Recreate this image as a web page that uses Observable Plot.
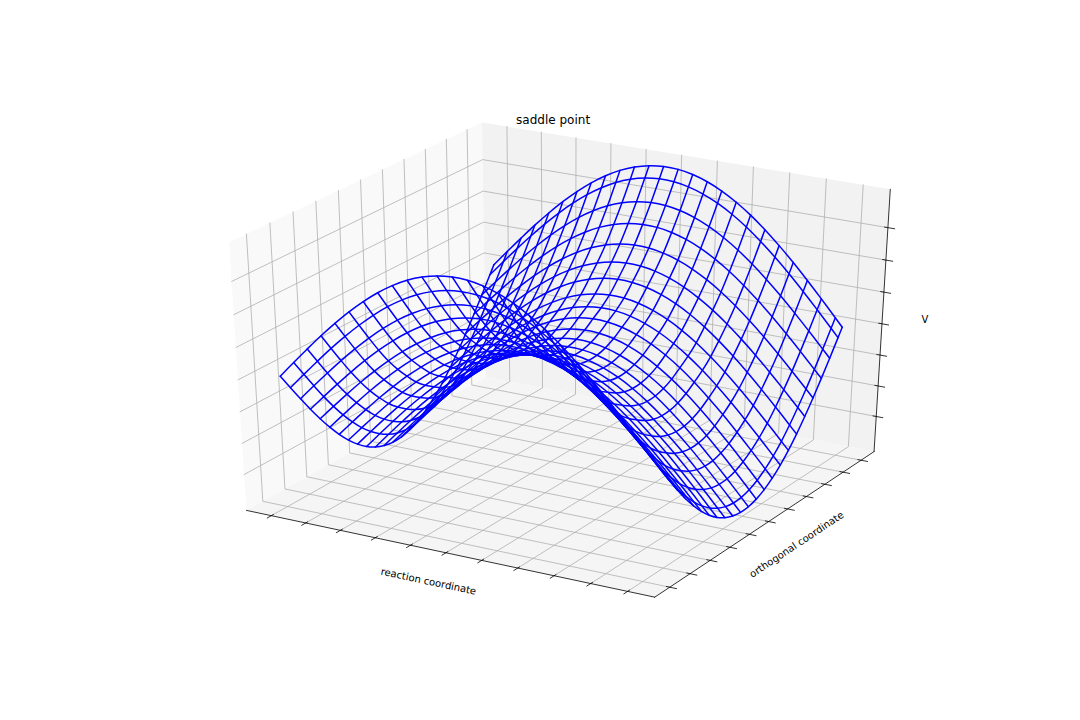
<!DOCTYPE html>
<html>
<head>
<meta charset="utf-8">
<script src="https://cdn.jsdelivr.net/npm/d3@7"></script>
<script src="https://cdn.jsdelivr.net/npm/@observablehq/plot@0.6"></script>
<style>
html,body{margin:0;padding:0;background:#fff}
svg{display:block}
</style>
</head>
<body>
<div id="chart"></div>
<script>
// Values
const reactionCoordinate = [-5,-4.592,-4.184,-3.776,-3.367,-2.959,-2.551,-2.143,-1.735,-1.327,-0.918,-0.51,-0.102,0.306,0.714,1.122,1.531,1.939,2.347,2.755,3.163,3.571,3.98,4.388,4.796,5];
const orthogonalCoordinate = [-5,-4.592,-4.184,-3.776,-3.367,-2.959,-2.551,-2.143,-1.735,-1.327,-0.918,-0.51,-0.102,0.306,0.714,1.122,1.531,1.939,2.347,2.755,3.163,3.571,3.98,4.388,4.796,5];
// V along the reaction coordinate (arch) and along the orthogonal coordinate (valley)
const reactionProfile = [0,0.256,0.507,0.751,0.981,1.196,1.391,1.564,1.71,1.829,1.917,1.974,1.999,1.991,1.95,1.877,1.773,1.64,1.481,1.296,1.09,0.868,0.63,0.383,0.128,0];
const orthogonalProfile = [0,-0.256,-0.507,-0.751,-0.981,-1.196,-1.391,-1.564,-1.71,-1.829,-1.917,-1.974,-1.999,-1.991,-1.95,-1.877,-1.773,-1.64,-1.481,-1.296,-1.09,-0.868,-0.63,-0.383,-0.128,0];
// Extra drop read along the crest of the arch, per orthogonal coordinate
const crestDrop = [0,-0.03,-0.06,-0.085,-0.1,-0.09,-0.07,-0.06,-0.03,0,0,0,0,0,0,0,0,-0.03,-0.06,-0.07,-0.09,-0.1,-0.085,-0.06,-0.015,0.015];
const xTicks = [-5,-4,-3,-2,-1,0,1,2,3,4,5];
const yTicks = [-5,-4,-3,-2,-1,0,1,2,3,4,5];
const vTicks = [-1.5,-1,-0.5,0,0.5,1,1.5];
const xLimits = [-5.5,5.5], yLimits = [-5.5,5.5], vLimits = [-2,2];

// 3D camera: elevation 30, azimuth -60, distance 10
const elev = 30*Math.PI/180, azim = -60*Math.PI/180, dist = 10;
const n = [Math.cos(elev)*Math.cos(azim), Math.cos(elev)*Math.sin(azim), Math.sin(elev)];
const uLen = Math.hypot(n[1], n[0]);
const u = [-n[1]/uLen, n[0]/uLen, 0];
const v = [n[1]*u[2]-n[2]*u[1], n[2]*u[0]-n[0]*u[2], n[0]*u[1]-n[1]*u[0]];
const dot = (a,b) => a[0]*b[0]+a[1]*b[1]+a[2]*b[2];
function project(p){ // p in the unit cube
  const d = [p[0]-0.5,p[1]-0.5,p[2]-0.5];
  const w = dist - dot(n,d);
  return [dot(u,d)/w, dot(v,d)/w];
}
const nx = x => (x-xLimits[0])/(xLimits[1]-xLimits[0]);
const ny = y => (y-yLimits[0])/(yLimits[1]-yLimits[0]);
const nz = z => (z-vLimits[0])/(vLimits[1]-vLimits[0]);
const lo = -1/48, hi = 1+1/48, tickOut = 0.2/12, tickIn = 0.1/12;

const toRow = (key, pts) => pts.map(p => { const q = project(p); return {key, px:q[0], py:q[1]}; });

// Panes
const panes = [
  {fill:"#f9f9f9", pts:[[lo,lo,lo],[lo,hi,lo],[lo,hi,hi],[lo,lo,hi]]},
  {fill:"#f2f2f2", pts:[[lo,hi,lo],[hi,hi,lo],[hi,hi,hi],[lo,hi,hi]]},
  {fill:"#f5f5f5", pts:[[lo,lo,lo],[hi,lo,lo],[hi,hi,lo],[lo,hi,lo]]}
];
const paneRows = panes.flatMap((p,i) => toRow(i, p.pts).map(r => ({...r, fill:p.fill})));

// Grid
const grid = [
  ...xTicks.map(t => toRow("x"+t, [[nx(t),lo,lo],[nx(t),hi,lo],[nx(t),hi,hi]])),
  ...yTicks.map(t => toRow("y"+t, [[hi,ny(t),lo],[lo,ny(t),lo],[lo,ny(t),hi]])),
  ...vTicks.map(t => toRow("z"+t, [[lo,lo,nz(t)],[lo,hi,nz(t)],[hi,hi,nz(t)]]))
].flat();

// Axis lines and tick marks
const axes = [
  ...toRow("ax", [[lo,lo,lo],[hi,lo,lo]]),
  ...toRow("ay", [[hi,lo,lo],[hi,hi,lo]]),
  ...toRow("az", [[hi,hi,lo],[hi,hi,hi]])
];
const ticks = [
  ...xTicks.map(t => toRow("tx"+t, [[nx(t),lo-tickOut,lo],[nx(t),lo+tickIn,lo]])),
  ...yTicks.map(t => toRow("ty"+t, [[hi+tickOut,ny(t),lo],[hi-tickIn,ny(t),lo]])),
  ...vTicks.map(t => toRow("tz"+t, [[hi+tickOut,hi,nz(t)],[hi-tickIn,hi,nz(t)]]))
].flat();

// Wireframe
const V = (i,j) => reactionProfile[i] + orthogonalProfile[j] + reactionProfile[i]/2*crestDrop[j];
const wires = [
  ...reactionCoordinate.map((x,i) => toRow("wx"+i, orthogonalCoordinate.map((y,j) => [nx(x),ny(y),nz(V(i,j))]))),
  ...orthogonalCoordinate.map((y,j) => toRow("wy"+j, reactionCoordinate.map((x,i) => [nx(x),ny(y),nz(V(i,j))])))
].flat();

const at = p => { const q = project(p); return {px:q[0], py:q[1]}; };
const labels = [
  {...at([0.5,lo,lo]), text:"reaction coordinate", rotate:12, dx:-17.5, dy:28.7},
  {...at([hi,0.5,lo]), text:"orthogonal coordinate", rotate:-33.6, dx:28, dy:23},
  {...at([hi,hi,0.5]), text:"V", rotate:0, dx:43, dy:-4}
];

const chart = Plot.plot({
  width:1080, height:720, margin:0,
  style:{background:"#fff", fontFamily:"'DejaVu Sans'"},
  x:{domain:[-0.095,0.09], range:[135,972], axis:null},
  y:{domain:[-0.095,0.09], range:[630,86.4], axis:null},
  marks:[
    Plot.line(paneRows,{x:"px",y:"py",z:"key",fill:"fill",stroke:null}),
    Plot.line(grid,{x:"px",y:"py",z:"key",stroke:"#b0b0b0",strokeWidth:0.8}),
    Plot.line(axes,{x:"px",y:"py",z:"key",stroke:"#000",strokeWidth:0.8}),
    Plot.line(ticks,{x:"px",y:"py",z:"key",stroke:"#000",strokeWidth:0.8}),
    Plot.line(wires,{x:"px",y:"py",z:"key",curve:"catmull-rom",stroke:"#0000ff",strokeWidth:1.5,strokeLinejoin:"round"}),
    ...labels.map(l => Plot.text([l],{x:"px",y:"py",text:"text",rotate:l.rotate,dx:l.dx,dy:l.dy,fontSize:10,fill:"#000",textAnchor:"middle"})),
    Plot.text(["saddle point"],{x:[-0.0027],y:[0.0786],text:d=>d,fontSize:12,fill:"#000",textAnchor:"middle"})
  ]
});
document.getElementById("chart").appendChild(chart);
</script>
</body>
</html>
